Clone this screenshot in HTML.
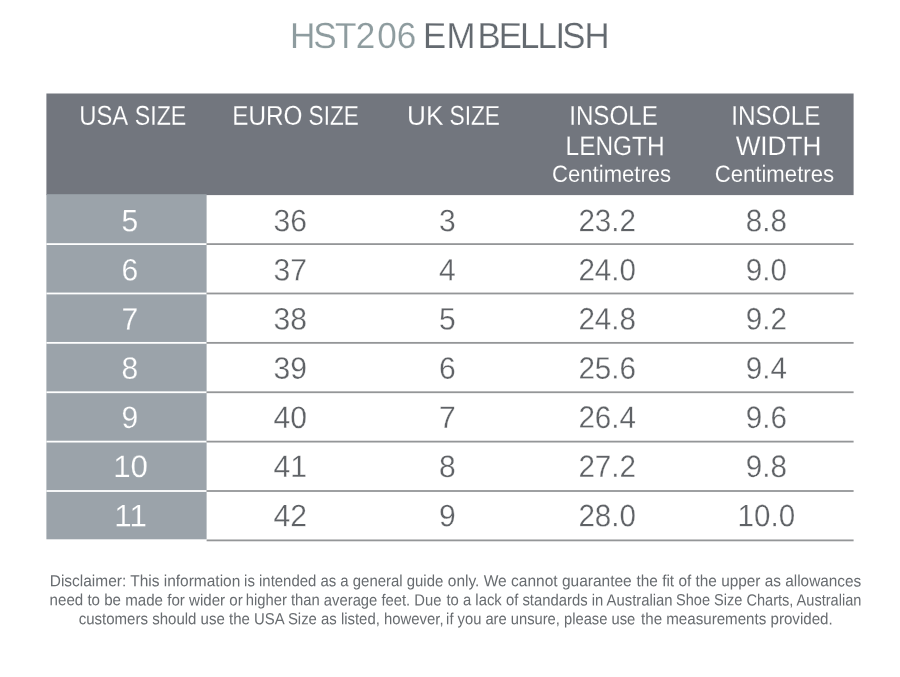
<!DOCTYPE html>
<html lang="en">
<head>
<meta charset="utf-8">
<title>HST206 Embellish size chart</title>
<style>
html,body{margin:0;padding:0;background:#fff}
body{width:900px;height:677px;overflow:hidden;font-family:'Liberation Sans', sans-serif}
svg{display:block;filter:blur(0.4px)}
</style>
</head>
<body>
<svg width="900" height="677" viewBox="0 0 900 677" font-family="'Liberation Sans', sans-serif">
<rect x="46.4" y="93.5" width="807.2" height="101.6" fill="#72767e"/>
<rect x="46.4" y="194.2" width="160.2" height="345.1" fill="#9ba3aa"/>
<rect x="46.4" y="243.20" width="160.2" height="1.8" fill="#fff"/>
<rect x="206.6" y="243.20" width="647.0" height="1.8" fill="#949698"/>
<rect x="46.4" y="292.58" width="160.2" height="1.8" fill="#fff"/>
<rect x="206.6" y="292.58" width="647.0" height="1.8" fill="#949698"/>
<rect x="46.4" y="341.96" width="160.2" height="1.8" fill="#fff"/>
<rect x="206.6" y="341.96" width="647.0" height="1.8" fill="#949698"/>
<rect x="46.4" y="391.34" width="160.2" height="1.8" fill="#fff"/>
<rect x="206.6" y="391.34" width="647.0" height="1.8" fill="#949698"/>
<rect x="46.4" y="440.72" width="160.2" height="1.8" fill="#fff"/>
<rect x="206.6" y="440.72" width="647.0" height="1.8" fill="#949698"/>
<rect x="46.4" y="490.10" width="160.2" height="1.8" fill="#fff"/>
<rect x="206.6" y="490.10" width="647.0" height="1.8" fill="#949698"/>
<rect x="206.6" y="539.48" width="647.0" height="1.8" fill="#949698"/>
<g id="title">
<text transform="translate(353.70,48.05) rotate(0.05) translate(-64.99,0) scale(0.9700,1)" dx="1.24 -2.10 -1.69 -0.71 1.99 0.09" font-size="36.19" fill="#8e9c9f" stroke="#fff" stroke-width="0.2">HST206</text>
<text transform="translate(517.50,48.05) rotate(0.05) translate(-97.48,0) scale(0.9600,1)" dx="3.16 0.16 2.14 -1.77 -2.17 -1.95 -1.29 -3.15 -0.86" font-size="36.19" fill="#646a70" stroke="#fff" stroke-width="0.2">EMBELLISH</text>
</g>
<g id="table-head">
<text transform="translate(104.65,124.83) rotate(0.05) translate(-25.33,0) scale(0.8750,1)" font-size="27.18" fill="#ffffff" stroke="#72767e" stroke-width="0.15">USA</text>
<text transform="translate(160.65,124.83) rotate(0.05) translate(-25.89,0) scale(0.8541,1)" font-size="27.18" fill="#ffffff" stroke="#72767e" stroke-width="0.15">SIZE</text>
<text transform="translate(267.75,124.83) rotate(0.05) translate(-35.47,0) scale(0.8938,1)" font-size="27.18" fill="#ffffff" stroke="#72767e" stroke-width="0.15">EURO</text>
<text transform="translate(333.75,124.83) rotate(0.05) translate(-25.15,0) scale(0.8300,1)" font-size="27.18" fill="#ffffff" stroke="#72767e" stroke-width="0.15">SIZE</text>
<text transform="translate(426.00,124.83) rotate(0.05) translate(-18.97,0) scale(0.9626,1)" font-size="27.18" fill="#ffffff" stroke="#72767e" stroke-width="0.15">UK</text>
<text transform="translate(474.85,124.83) rotate(0.05) translate(-25.36,0) scale(0.8369,1)" font-size="27.18" fill="#ffffff" stroke="#72767e" stroke-width="0.15">SIZE</text>
<text transform="translate(614.20,124.83) rotate(0.05) translate(-44.99,0) scale(0.8887,1)" font-size="27.18" fill="#ffffff" stroke="#72767e" stroke-width="0.15">INSOLE</text>
<text transform="translate(615.10,155.12) rotate(0.05) translate(-49.51,0) scale(0.9043,1)" font-size="27.03" fill="#ffffff" stroke="#72767e" stroke-width="0.15">LENGTH</text>
<text transform="translate(611.73,181.80) rotate(0.05) translate(-59.63,0) scale(0.9438,1)" font-size="23.40" fill="#ffffff" stroke="#72767e" stroke-width="0.1">Centimetres</text>
<text transform="translate(776.55,124.83) rotate(0.05) translate(-45.25,0) scale(0.8940,1)" font-size="27.18" fill="#ffffff" stroke="#72767e" stroke-width="0.15">INSOLE</text>
<text transform="translate(777.52,155.12) rotate(0.05) translate(-41.85,0) scale(0.9675,1)" font-size="27.03" fill="#ffffff" stroke="#72767e" stroke-width="0.15">WIDTH</text>
<text transform="translate(774.50,181.80) rotate(0.05) translate(-59.86,0) scale(0.9474,1)" font-size="23.40" fill="#ffffff" stroke="#72767e" stroke-width="0.1">Centimetres</text>
</g>
<g id="table-body">
<g class="row">
<text transform="translate(129.80,231.30) rotate(0.05) scale(0.9700,1)" text-anchor="middle" font-size="31.0" fill="#ffffff" stroke="#9ba3aa" stroke-width="0.2">5</text>
<text transform="translate(290.20,231.30) rotate(0.05) scale(0.9700,1)" text-anchor="middle" font-size="31.0" fill="#5f6266" stroke="#fff" stroke-width="0.3">36</text>
<text transform="translate(447.30,231.30) rotate(0.05) scale(0.9700,1)" text-anchor="middle" font-size="31.0" fill="#5f6266" stroke="#fff" stroke-width="0.3">3</text>
<text transform="translate(607.20,231.30) rotate(0.05) scale(0.9540,1)" text-anchor="middle" font-size="31.0" fill="#5f6266" stroke="#fff" stroke-width="0.3">23.2</text>
<text transform="translate(766.30,231.30) rotate(0.05) scale(0.9540,1)" text-anchor="middle" font-size="31.0" fill="#5f6266" stroke="#fff" stroke-width="0.3">8.8</text>
</g>
<g class="row">
<text transform="translate(129.80,280.45) rotate(0.05) scale(0.9700,1)" text-anchor="middle" font-size="31.0" fill="#ffffff" stroke="#9ba3aa" stroke-width="0.2">6</text>
<text transform="translate(290.20,280.45) rotate(0.05) scale(0.9700,1)" text-anchor="middle" font-size="31.0" fill="#5f6266" stroke="#fff" stroke-width="0.3">37</text>
<text transform="translate(447.30,280.45) rotate(0.05) scale(0.9700,1)" text-anchor="middle" font-size="31.0" fill="#5f6266" stroke="#fff" stroke-width="0.3">4</text>
<text transform="translate(607.20,280.45) rotate(0.05) scale(0.9540,1)" text-anchor="middle" font-size="31.0" fill="#5f6266" stroke="#fff" stroke-width="0.3">24.0</text>
<text transform="translate(766.30,280.45) rotate(0.05) scale(0.9540,1)" text-anchor="middle" font-size="31.0" fill="#5f6266" stroke="#fff" stroke-width="0.3">9.0</text>
</g>
<g class="row">
<text transform="translate(129.80,329.60) rotate(0.05) scale(0.9700,1)" text-anchor="middle" font-size="31.0" fill="#ffffff" stroke="#9ba3aa" stroke-width="0.2">7</text>
<text transform="translate(290.20,329.60) rotate(0.05) scale(0.9700,1)" text-anchor="middle" font-size="31.0" fill="#5f6266" stroke="#fff" stroke-width="0.3">38</text>
<text transform="translate(447.30,329.60) rotate(0.05) scale(0.9700,1)" text-anchor="middle" font-size="31.0" fill="#5f6266" stroke="#fff" stroke-width="0.3">5</text>
<text transform="translate(607.20,329.60) rotate(0.05) scale(0.9540,1)" text-anchor="middle" font-size="31.0" fill="#5f6266" stroke="#fff" stroke-width="0.3">24.8</text>
<text transform="translate(766.30,329.60) rotate(0.05) scale(0.9540,1)" text-anchor="middle" font-size="31.0" fill="#5f6266" stroke="#fff" stroke-width="0.3">9.2</text>
</g>
<g class="row">
<text transform="translate(129.80,378.75) rotate(0.05) scale(0.9700,1)" text-anchor="middle" font-size="31.0" fill="#ffffff" stroke="#9ba3aa" stroke-width="0.2">8</text>
<text transform="translate(290.20,378.75) rotate(0.05) scale(0.9700,1)" text-anchor="middle" font-size="31.0" fill="#5f6266" stroke="#fff" stroke-width="0.3">39</text>
<text transform="translate(447.30,378.75) rotate(0.05) scale(0.9700,1)" text-anchor="middle" font-size="31.0" fill="#5f6266" stroke="#fff" stroke-width="0.3">6</text>
<text transform="translate(607.20,378.75) rotate(0.05) scale(0.9540,1)" text-anchor="middle" font-size="31.0" fill="#5f6266" stroke="#fff" stroke-width="0.3">25.6</text>
<text transform="translate(766.30,378.75) rotate(0.05) scale(0.9540,1)" text-anchor="middle" font-size="31.0" fill="#5f6266" stroke="#fff" stroke-width="0.3">9.4</text>
</g>
<g class="row">
<text transform="translate(129.80,427.90) rotate(0.05) scale(0.9700,1)" text-anchor="middle" font-size="31.0" fill="#ffffff" stroke="#9ba3aa" stroke-width="0.2">9</text>
<text transform="translate(290.20,427.90) rotate(0.05) scale(0.9700,1)" text-anchor="middle" font-size="31.0" fill="#5f6266" stroke="#fff" stroke-width="0.3">40</text>
<text transform="translate(447.30,427.90) rotate(0.05) scale(0.9700,1)" text-anchor="middle" font-size="31.0" fill="#5f6266" stroke="#fff" stroke-width="0.3">7</text>
<text transform="translate(607.20,427.90) rotate(0.05) scale(0.9540,1)" text-anchor="middle" font-size="31.0" fill="#5f6266" stroke="#fff" stroke-width="0.3">26.4</text>
<text transform="translate(766.30,427.90) rotate(0.05) scale(0.9540,1)" text-anchor="middle" font-size="31.0" fill="#5f6266" stroke="#fff" stroke-width="0.3">9.6</text>
</g>
<g class="row">
<text transform="translate(130.60,477.05) rotate(0.05) scale(1.0088,1)" text-anchor="middle" font-size="31.0" fill="#ffffff" stroke="#9ba3aa" stroke-width="0.2">10</text>
<text transform="translate(290.20,477.05) rotate(0.05) scale(0.9700,1)" text-anchor="middle" font-size="31.0" fill="#5f6266" stroke="#fff" stroke-width="0.3">41</text>
<text transform="translate(447.30,477.05) rotate(0.05) scale(0.9700,1)" text-anchor="middle" font-size="31.0" fill="#5f6266" stroke="#fff" stroke-width="0.3">8</text>
<text transform="translate(607.20,477.05) rotate(0.05) scale(0.9540,1)" text-anchor="middle" font-size="31.0" fill="#5f6266" stroke="#fff" stroke-width="0.3">27.2</text>
<text transform="translate(766.30,477.05) rotate(0.05) scale(0.9540,1)" text-anchor="middle" font-size="31.0" fill="#5f6266" stroke="#fff" stroke-width="0.3">9.8</text>
</g>
<g class="row">
<text transform="translate(130.60,526.20) rotate(0.05) scale(1.0088,1)" text-anchor="middle" font-size="31.0" fill="#ffffff" stroke="#9ba3aa" stroke-width="0.2">11</text>
<text transform="translate(290.20,526.20) rotate(0.05) scale(0.9700,1)" text-anchor="middle" font-size="31.0" fill="#5f6266" stroke="#fff" stroke-width="0.3">42</text>
<text transform="translate(447.30,526.20) rotate(0.05) scale(0.9700,1)" text-anchor="middle" font-size="31.0" fill="#5f6266" stroke="#fff" stroke-width="0.3">9</text>
<text transform="translate(607.20,526.20) rotate(0.05) scale(0.9540,1)" text-anchor="middle" font-size="31.0" fill="#5f6266" stroke="#fff" stroke-width="0.3">28.0</text>
<text transform="translate(766.30,526.20) rotate(0.05) scale(0.9540,1)" text-anchor="middle" font-size="31.0" fill="#5f6266" stroke="#fff" stroke-width="0.3">10.0</text>
</g>
</g>
<g id="disclaimer">
<g class="line">
<text transform="translate(145.20,586.30) rotate(0.05) translate(-95.49,0) scale(0.9598,1)" font-size="16.13" fill="#686c70">Disclaimer: This information</text>
<text transform="translate(344.00,586.30) rotate(0.05) translate(-99.90,0) scale(0.9265,1)" font-size="16.13" fill="#686c70">is intended as a general guide</text>
<text transform="translate(539.95,586.30) rotate(0.05) translate(-92.13,0) scale(0.9624,1)" font-size="16.13" fill="#686c70">only. We cannot guarantee</text>
<text transform="translate(748.85,586.30) rotate(0.05) translate(-112.31,0) scale(0.9536,1)" font-size="16.13" fill="#686c70">the fit of the upper as allowances</text>
</g>
<g class="line">
<text transform="translate(146.60,605.40) rotate(0.05) translate(-97.01,0) scale(0.9371,1)" font-size="16.13" fill="#686c70">need to be made for wider or</text>
<text transform="translate(343.85,605.40) rotate(0.05) translate(-98.14,0) scale(0.9182,1)" font-size="16.13" fill="#686c70">higher than average feet. Due</text>
<text transform="translate(559.25,605.40) rotate(0.05) translate(-112.80,0) scale(0.9209,1)" font-size="16.13" fill="#686c70">to a lack of standards in Australian</text>
<text transform="translate(768.70,605.40) rotate(0.05) translate(-92.73,0) scale(0.9039,1)" font-size="16.13" fill="#686c70">Shoe Size Charts, Australian</text>
</g>
<g class="line">
<text transform="translate(164.45,624.30) rotate(0.05) translate(-85.80,0) scale(0.9330,1)" font-size="16.13" fill="#686c70">customers should use the</text>
<text transform="translate(348.80,624.30) rotate(0.05) translate(-94.84,0) scale(0.9245,1)" font-size="16.13" fill="#686c70">USA Size as listed, however,</text>
<text transform="translate(540.95,624.30) rotate(0.05) translate(-94.83,0) scale(0.9137,1)" font-size="16.13" fill="#686c70">if you are unsure, please use</text>
<text transform="translate(736.45,624.30) rotate(0.05) translate(-95.40,0) scale(0.9386,1)" font-size="16.13" fill="#686c70">the measurements provided.</text>
</g>
</g>
</svg>
</body>
</html>
